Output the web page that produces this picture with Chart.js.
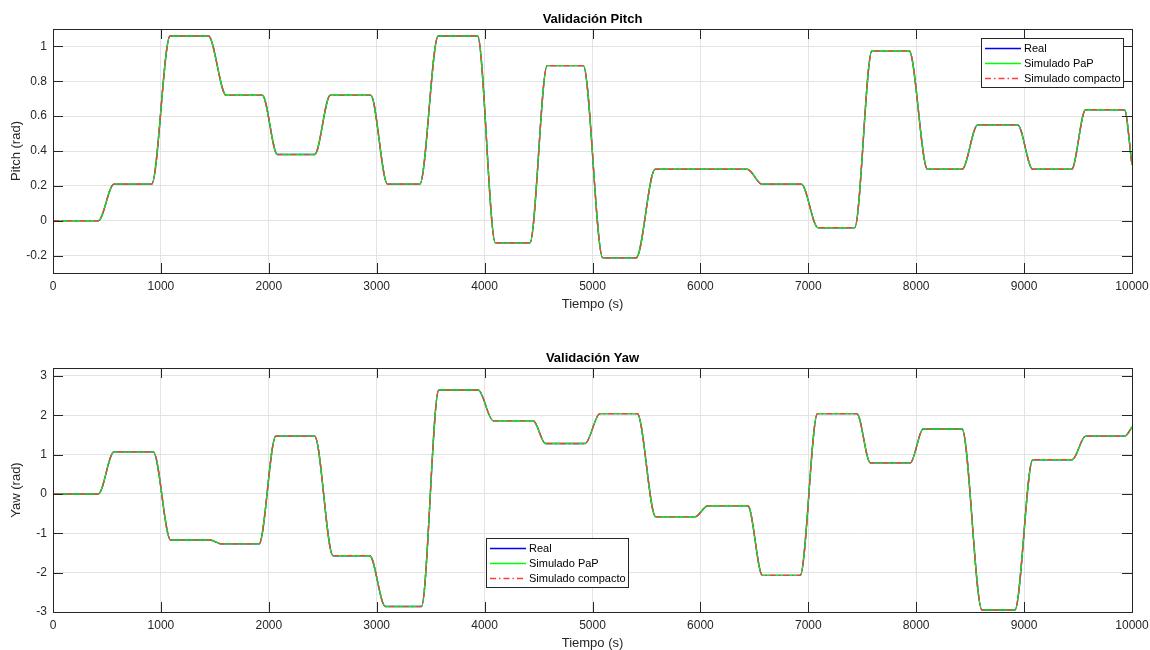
<!DOCTYPE html>
<html>
<head>
<meta charset="utf-8">
<script src="https://cdn.jsdelivr.net/npm/chart.js@4.4.0/dist/chart.umd.min.js"></script>
<style>
  html, body { margin: 0; padding: 0; background: #fff; overflow: hidden; }
  #wrapPitch { position: absolute; left: 0; top: 0; width: 1150px; height: 320px; }
  #wrapYaw { position: absolute; left: 0; top: 320px; width: 1150px; height: 335px; }
</style>
</head>
<body>
<div id="wrapPitch"><canvas id="pitch"></canvas></div>
<div id="wrapYaw"><canvas id="yaw"></canvas></div>
<script>
// Tiempo (s) y valores (puntos de inicio/fin de cada transicion)
const pitchTime = [0, 420, 565, 915, 1085, 1440, 1605, 1940, 2080, 2425, 2570, 2945, 3100,
  3400, 3570, 3935, 4100, 4420, 4580, 4915, 5095, 5405, 5580, 6435, 6570, 6935, 7090,
  7430, 7590, 7935, 8105, 8425, 8570, 8940, 9080, 9440, 9570, 9930, 10000];
const pitchReal = [0, 0, 0.21, 0.21, 1.06, 1.06, 0.72, 0.72, 0.38, 0.38, 0.72, 0.72, 0.21,
  0.21, 1.06, 1.06, -0.127, -0.127, 0.89, 0.89, -0.213, -0.213, 0.295, 0.295, 0.21, 0.21, -0.04,
  -0.04, 0.975, 0.975, 0.295, 0.295, 0.55, 0.55, 0.295, 0.295, 0.637, 0.637, 0.32];

const yawTime = [0, 420, 565, 930, 1090, 1455, 1560, 1910, 2065, 2425, 2595, 2935, 3080,
  3415, 3575, 3940, 4080, 4450, 4565, 4930, 5070, 5415, 5585, 5950, 6070, 6440, 6575,
  6925, 7085, 7450, 7575, 7945, 8065, 8425, 8610, 8915, 9080, 9445, 9570, 9935, 10000];
const yawReal = [0, 0, 1.07, 1.07, -1.17, -1.17, -1.27, -1.27, 1.47, 1.47, -1.57, -1.57, -2.86,
  -2.86, 2.64, 2.64, 1.86, 1.86, 1.28, 1.28, 2.04, 2.04, -0.58, -0.58, -0.30, -0.30, -2.07,
  -2.07, 2.04, 2.04, 0.79, 0.79, 1.65, 1.65, -2.95, -2.95, 0.87, 0.87, 1.47, 1.47, 1.70];

// las simulaciones se superponen a la medida real en toda la figura
const pitchPaP = pitchReal.slice();
const pitchCompacto = pitchReal.slice();
const yawPaP = yawReal.slice();
const yawCompacto = yawReal.slice();

// marcas de los ejes
const timeTicks = [0, 1000, 2000, 3000, 4000, 5000, 6000, 7000, 8000, 9000, 10000];
const pitchTicks = [-0.2, 0, 0.2, 0.4, 0.6, 0.8, 1];
const yawTicks = [-3, -2, -1, 0, 1, 2, 3];

const seriesNames = ['Real', 'Simulado PaP', 'Simulado compacto'];
const seriesColors = ['#0000ff', '#00ff00', '#ff3b3b'];
const seriesDash = [[], [], [6, 3, 1.5, 3]];

const txtColor = '#262626';
const fontFamily = '"Liberation Sans", Arial, Helvetica, sans-serif';

function toPoints(t, v) {
  return t.map((x, i) => ({ x: x, y: v[i] }));
}

// Caja, marcas interiores, titulo y leyenda al estilo MATLAB
const matlabAxes = {
  id: 'matlabAxes',
  afterDraw(chart, args, opts) {
    const ctx = chart.ctx;
    const a = chart.chartArea;
    const xs = chart.scales.x, ys = chart.scales.y;
    ctx.save();
    ctx.strokeStyle = txtColor;
    ctx.lineWidth = 1;
    ctx.beginPath();
    xs.ticks.forEach(t => {
      const px = Math.round(xs.getPixelForValue(t.value)) + 0.5;
      if (px <= a.left + 1 || px >= a.right - 1) return;
      ctx.moveTo(px, a.bottom); ctx.lineTo(px, a.bottom - 10);
      ctx.moveTo(px, a.top); ctx.lineTo(px, a.top + 10);
    });
    ys.ticks.forEach(t => {
      const py = Math.round(ys.getPixelForValue(t.value)) + 0.5;
      ctx.moveTo(a.left, py); ctx.lineTo(a.left + 10, py);
      ctx.moveTo(a.right, py); ctx.lineTo(a.right - 10, py);
    });
    ctx.stroke();
    ctx.strokeRect(Math.round(a.left) + 0.5, Math.round(a.top) + 0.5,
      Math.round(a.right - a.left), Math.round(a.bottom - a.top));

    // titulo
    ctx.fillStyle = '#000';
    ctx.font = 'bold 13px ' + fontFamily;
    ctx.textAlign = 'center';
    ctx.textBaseline = 'middle';
    ctx.fillText(opts.title, (a.left + a.right) / 2, a.top - 10);

    // leyenda
    const L = opts.legend;
    ctx.fillStyle = '#fff';
    ctx.fillRect(L.x, L.y, L.w, L.h);
    ctx.strokeStyle = txtColor;
    ctx.strokeRect(L.x + 0.5, L.y + 0.5, L.w, L.h);
    ctx.font = '11px ' + fontFamily;
    ctx.textAlign = 'left';
    seriesNames.forEach((name, i) => {
      const yy = L.y + 10.5 + i * 15;
      ctx.strokeStyle = seriesColors[i];
      ctx.lineWidth = 1.3;
      ctx.setLineDash(seriesDash[i]);
      ctx.beginPath();
      ctx.moveTo(L.x + 4, yy); ctx.lineTo(L.x + 40, yy);
      ctx.stroke();
      ctx.setLineDash([]);
      ctx.fillStyle = '#000';
      ctx.fillText(name, L.x + 43, yy);
    });
    ctx.restore();
  }
};

function makeChart(id, time, real, pap, comp, yMin, yMax, yTicks, yLabel, xHeight, padTop, titlePad, title, legend) {
  const values = [real, pap, comp];
  const datasets = seriesNames.map((name, i) => ({
    label: name,
    data: toPoints(time, values[i]),
    borderColor: seriesColors[i],
    borderWidth: i === 2 ? 1.2 : 1.4,
    borderDash: seriesDash[i],
    pointRadius: 0,
    fill: false,
    cubicInterpolationMode: 'monotone',
    order: 3 - i
  }));
  return new Chart(document.getElementById(id), {
    type: 'line',
    data: { datasets: datasets },
    options: {
      responsive: true,
      maintainAspectRatio: false,
      animation: false,
      events: [],
      layout: { padding: { top: padTop, right: 18, left: 0, bottom: 0 } },
      plugins: {
        legend: { display: false },
        tooltip: { enabled: false },
        matlabAxes: { title: title, legend: legend }
      },
      scales: {
        x: {
          type: 'linear',
          min: 0, max: 10000,
          afterBuildTicks(s) { s.ticks = timeTicks.map(v => ({ value: v })); },
          afterFit(s) { s.height = xHeight; s.paddingLeft = 0; s.paddingRight = 0; },
          ticks: {
            maxRotation: 0,
            autoSkip: false,
            padding: 6,
            color: txtColor,
            font: { family: fontFamily, size: 12 },
            callback: v => String(v)
          },
          grid: { color: '#e3e3e3', lineWidth: 1, drawTicks: false },
          border: { display: false },
          title: {
            display: true, text: 'Tiempo (s)', color: txtColor,
            font: { family: fontFamily, size: 13 }, padding: { top: 0, bottom: titlePad }
          }
        },
        y: {
          min: yMin, max: yMax,
          afterBuildTicks(s) { s.ticks = yTicks.map(v => ({ value: v })); },
          afterFit(s) { s.width = 53; },
          ticks: {
            autoSkip: false,
            padding: 6,
            color: txtColor,
            font: { family: fontFamily, size: 12 },
            callback: v => String(+v.toFixed(1))
          },
          grid: { color: '#e3e3e3', lineWidth: 1, drawTicks: false },
          border: { display: false },
          title: {
            display: true, text: yLabel, color: txtColor,
            font: { family: fontFamily, size: 13 }, padding: { top: 9, bottom: 0 }
          }
        }
      }
    },
    plugins: [matlabAxes]
  });
}

makeChart('pitch', pitchTime, pitchReal, pitchPaP, pitchCompacto, -0.3, 1.1, pitchTicks, 'Pitch (rad)',
  47, 29, 8, 'Validación Pitch', { x: 981, y: 38, w: 142, h: 49 });
makeChart('yaw', yawTime, yawReal, yawPaP, yawCompacto, -3, 3.2, yawTicks, 'Yaw (rad)',
  43, 48, 4, 'Validación Yaw', { x: 486, y: 218, w: 142, h: 49 });
</script>
</body>
</html>
